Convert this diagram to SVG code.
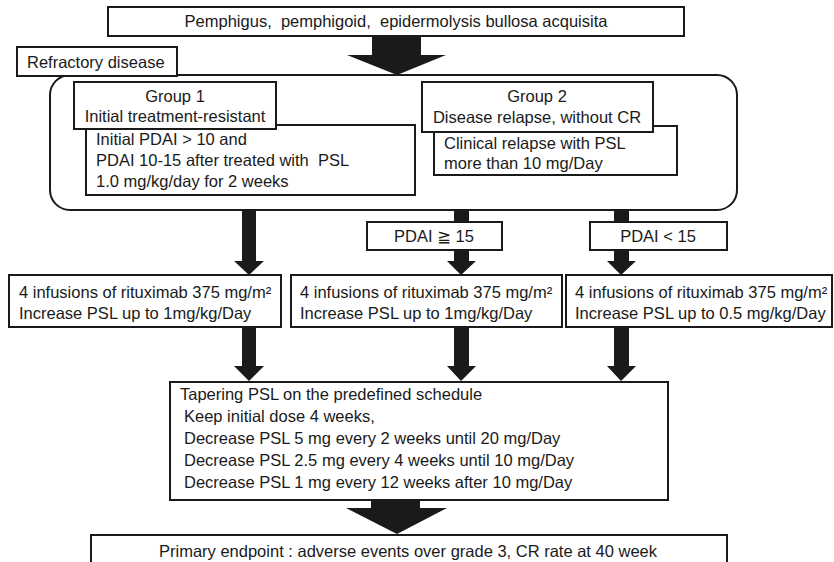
<svg xmlns="http://www.w3.org/2000/svg" width="834" height="562" viewBox="0 0 834 562">
<style>
.b{fill:#fff;stroke:#1a1a1a;stroke-width:2}
.t{font-family:"Liberation Sans",Arial,"DejaVu Sans",sans-serif;font-size:16.5px;fill:#1a1a1a}
.c{text-anchor:middle}
.a{fill:#1a1a1a}
</style>
<rect width="834" height="562" fill="#fff"/>
<g id="connectors">
<polygon class="a" points="372,36 421,36 421,55 446,55 397,75 347,55 372,55"/>
<polygon class="a" points="242,195 256,195 256,261 264,261 249,275 234,261 242,261"/>
<polygon class="a" points="454,175 469,175 469,222 454,222"/>
<polygon class="a" points="614,175 629,175 629,222 614,222"/>
<polygon class="a" points="454,250 469,250 469,261 476,261 461,275 447,261 454,261"/>
<polygon class="a" points="614,250 629,250 629,261 636,261 621,275 607,261 614,261"/>
<polygon class="a" points="242,327 256,327 256,366 264,366 249,381 234,366 242,366"/>
<polygon class="a" points="454,327 469,327 469,366 476,366 461,381 447,366 454,366"/>
<polygon class="a" points="614,327 629,327 629,366 636,366 621,381 607,366 614,366"/>
<polygon class="a" points="371,500 420,500 420,508 447,508 397,534 346,508 371,508"/>
</g>
<g id="top">
<rect class="b" x="108" y="7" width="576" height="29"/>
<text class="t c" x="396" y="27" xml:space="preserve">Pemphigus,  pemphigoid,  epidermolysis bullosa acquisita</text>
</g>
<g id="refractory-frame">
<rect class="b" x="50" y="75" width="687" height="135" rx="20" ry="20" fill="none"/>
</g>
<g id="refractory">
<rect class="b" x="17" y="47" width="160" height="29"/>
<text class="t" x="27" y="68">Refractory disease</text>
</g>
<g id="group1-detail">
<rect class="b" x="86" y="125" width="329" height="70"/>
<text class="t" x="96" y="145">Initial PDAI &gt; 10 and</text>
<text class="t" x="96" y="166" xml:space="preserve">PDAI 10-15 after treated with  PSL</text>
<text class="t" x="96" y="187">1.0 mg/kg/day for 2 weeks</text>
</g>
<g id="group1">
<rect class="b" x="74" y="82" width="202" height="47"/>
<text class="t c" x="175" y="102">Group 1</text>
<text class="t c" x="175" y="122">Initial treatment-resistant</text>
</g>
<g id="group2-detail">
<rect class="b" x="434" y="126" width="243" height="49"/>
<text class="t" x="444" y="149">Clinical relapse with PSL</text>
<text class="t" x="444" y="169">more than 10 mg/Day</text>
</g>
<g id="group2">
<rect class="b" x="422" y="82" width="231" height="50"/>
<text class="t c" x="537" y="102">Group 2</text>
<text class="t c" x="537" y="123">Disease relapse, without CR</text>
</g>
<g id="pdai-ge15">
<rect class="b" x="367" y="222" width="135" height="28"/>
<text class="t c" x="434" y="242">PDAI ≧ 15</text>
</g>
<g id="pdai-lt15">
<rect class="b" x="590" y="222" width="137" height="28"/>
<text class="t c" x="658" y="242">PDAI &lt; 15</text>
</g>
<g id="infusion1">
<rect class="b" x="9" y="275" width="272" height="52"/>
<text class="t" x="19" y="298">4 infusions of rituximab 375 mg/m²</text>
<text class="t" x="19" y="319">Increase PSL up to 1mg/kg/Day</text>
</g>
<g id="infusion2">
<rect class="b" x="291" y="275" width="271" height="52"/>
<text class="t" x="300" y="298">4 infusions of rituximab 375 mg/m²</text>
<text class="t" x="300" y="319">Increase PSL up to 1mg/kg/Day</text>
</g>
<g id="infusion3">
<rect class="b" x="566" y="275" width="266" height="52"/>
<text class="t" x="575" y="298">4 infusions of rituximab 375 mg/m²</text>
<text class="t" x="575" y="319">Increase PSL up to 0.5 mg/kg/Day</text>
</g>
<g id="tapering">
<rect class="b" x="170" y="382" width="498" height="118"/>
<text class="t" x="180" y="400">Tapering PSL on the predefined schedule</text>
<text class="t" x="184" y="422">Keep initial dose 4 weeks,</text>
<text class="t" x="184" y="444">Decrease PSL 5 mg every 2 weeks until 20 mg/Day</text>
<text class="t" x="184" y="466">Decrease PSL 2.5 mg every 4 weeks until 10 mg/Day</text>
<text class="t" x="184" y="488">Decrease PSL 1 mg every 12 weeks after 10 mg/Day</text>
</g>
<g id="endpoint">
<rect class="b" x="91" y="535" width="636" height="40"/>
<text class="t c" x="408" y="557">Primary endpoint : adverse events over grade 3, CR rate at 40 week</text>
</g>
</svg>
